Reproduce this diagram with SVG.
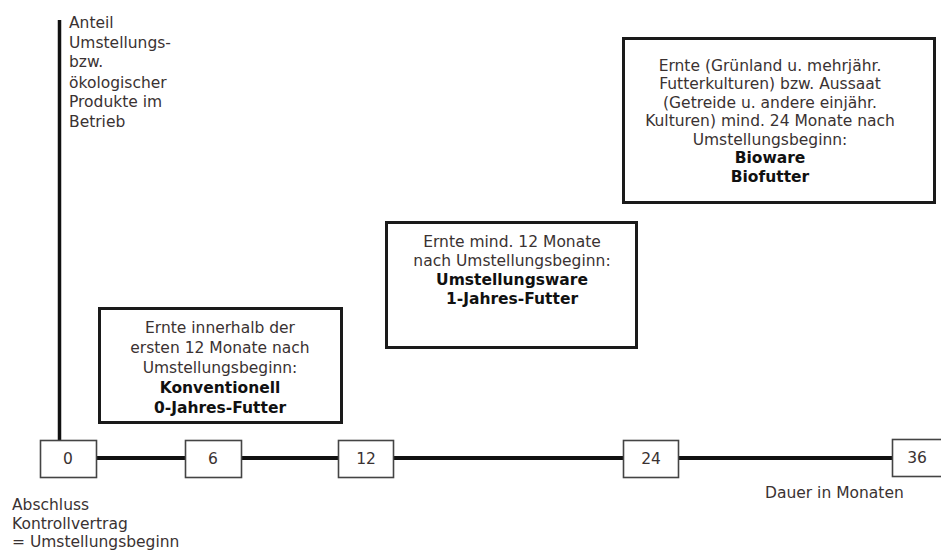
<svg xmlns="http://www.w3.org/2000/svg" width="941" height="551" viewBox="0 0 941 551">
<style>
text{font-family:"DejaVu Sans","Verdana",sans-serif;font-size:15.5px;fill:#3a3232}
.b{font-weight:bold;fill:#111}
.c{text-anchor:middle}
.big{fill:#fff;stroke:#1a1a1a;stroke-width:3}
.tick{fill:#fff;stroke:#444;stroke-width:1.6}
.ax{stroke:#111;fill:none}
</style>
<rect width="941" height="551" fill="#fff"/>
<g id="connectors">
<line class="ax" x1="59.5" y1="20" x2="59.5" y2="441" stroke-width="3.5"/>
<line class="ax" x1="96" y1="458" x2="892" y2="458" stroke-width="4"/>
</g>
<g id="y-label">
<text x="69" y="28">Anteil</text>
<text x="69" y="47.5">Umstellungs-</text>
<text x="69" y="67">bzw.</text>
<text x="69" y="87.5">ökologischer</text>
<text x="69" y="107">Produkte im</text>
<text x="69" y="126.5">Betrieb</text>
</g>
<g id="box-konventionell">
<rect class="big" x="99.5" y="308.5" width="242" height="114"/>
<text class="c" x="220" y="333">Ernte innerhalb der</text>
<text class="c" x="220" y="353">ersten 12 Monate nach</text>
<text class="c" x="220" y="373">Umstellungsbeginn:</text>
<text class="c b" x="220" y="393">Konventionell</text>
<text class="c b" x="220" y="413">0-Jahres-Futter</text>
</g>
<g id="box-umstellung">
<rect class="big" x="386.5" y="222.5" width="250" height="125"/>
<text class="c" x="512" y="247">Ernte mind. 12 Monate</text>
<text class="c" x="512" y="266">nach Umstellungsbeginn:</text>
<text class="c b" x="512" y="285">Umstellungsware</text>
<text class="c b" x="512" y="304">1-Jahres-Futter</text>
</g>
<g id="box-bio">
<rect class="big" x="623.5" y="38.5" width="311" height="164"/>
<text class="c" x="770" y="70.5">Ernte (Grünland u. mehrjähr.</text>
<text class="c" x="770" y="89">Futterkulturen) bzw. Aussaat</text>
<text class="c" x="770" y="107.5">(Getreide u. andere einjähr.</text>
<text class="c" x="770" y="126">Kulturen) mind. 24 Monate nach</text>
<text class="c" x="770" y="144.5">Umstellungsbeginn:</text>
<text class="c b" x="770" y="163">Bioware</text>
<text class="c b" x="770" y="181.5">Biofutter</text>
</g>
<g id="t0"><rect class="tick" x="40.5" y="440.5" width="56" height="37"/><text class="c" x="68" y="464">0</text></g>
<g id="t6"><rect class="tick" x="185.5" y="440.5" width="56" height="37"/><text class="c" x="213" y="464">6</text></g>
<g id="t12"><rect class="tick" x="338.5" y="440.5" width="55" height="37"/><text class="c" x="366" y="464">12</text></g>
<g id="t24"><rect class="tick" x="623.5" y="440.5" width="55" height="37"/><text class="c" x="651" y="464">24</text></g>
<g id="t36"><rect class="tick" x="892.5" y="439.5" width="56" height="37"/><text class="c" x="917" y="463">36</text></g>
<g id="x-label"><text x="765" y="498">Dauer in Monaten</text></g>
<g id="start-label">
<text x="12" y="510">Abschluss</text>
<text x="12" y="529">Kontrollvertrag</text>
<text x="12" y="547">= Umstellungsbeginn</text>
</g>
</svg>
